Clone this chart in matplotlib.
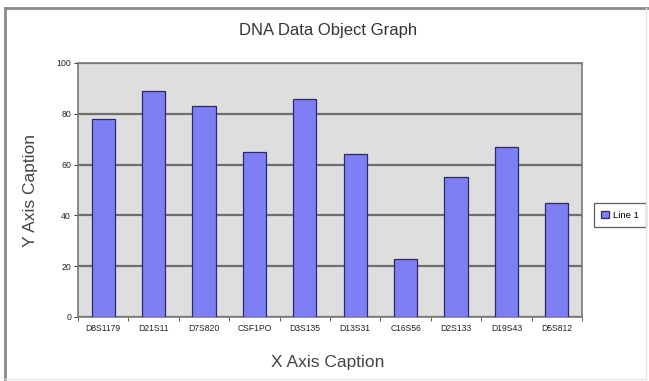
import matplotlib
matplotlib.use("Agg")
import matplotlib.pyplot as plt
from matplotlib.lines import Line2D
import numpy as np

plt.rcParams['font.family'] = ['Liberation Sans', 'DejaVu Sans']

loci = ["D8S1179", "D21S11", "D7S820", "CSF1PO", "D3S135",
        "D13S31", "C16S56", "D2S133", "D19S43", "D5S812"]
line1 = [78, 89, 83, 65, 86, 64, 23, 55, 67, 45]
y_ticks = [0, 20, 40, 60, 80, 100]

W, H = 649, 381
fig = plt.figure(figsize=(W / 100, H / 100), dpi=100)
fig.patch.set_facecolor("white")


def fx(px):
    return px / W


def fy(py):
    return 1 - py / H


# outer chart frame: darker top/left edges, pale right/bottom edges
fig.add_artist(Line2D([fx(5), fx(5)], [fy(8), fy(381)], color="#8a8a8a",
                      linewidth=2.0, transform=fig.transFigure))
fig.add_artist(Line2D([fx(5), fx(649)], [fy(8), fy(8)], color="#8a8a8a",
                      linewidth=2.0, transform=fig.transFigure))
fig.add_artist(Line2D([fx(646), fx(646)], [fy(8), fy(379)], color="#e4e4e4",
                      linewidth=1.0, transform=fig.transFigure))
fig.add_artist(Line2D([fx(5), fx(646)], [fy(379), fy(379)], color="#e4e4e4",
                      linewidth=1.0, transform=fig.transFigure))

ax = fig.add_axes([fx(78), fy(317), (582 - 78) / W, (317 - 63) / H])
ax.set_facecolor("#dedede")

x = np.arange(len(loci))
ax.bar(x, line1, width=0.46, color="#7f7ff5", edgecolor="#2a2a6a",
       linewidth=0.9, label="Line 1", zorder=3)

ax.set_xlim(-0.5, len(loci) - 0.5)
ax.set_ylim(0, 100)
ax.set_yticks(y_ticks)
ax.set_yticklabels([str(v) for v in y_ticks], fontsize=6.3, color="#222222")
ax.yaxis.grid(True, color="#6e6e6e", linewidth=1.6, zorder=1)
ax.set_axisbelow(True)

ax.set_xticks(x)
ax.set_xticklabels(loci, fontsize=6.2, color="#222222")
ax.tick_params(axis="x", length=0, pad=5)
ax.set_xticks(np.arange(-0.5, len(loci), 1.0), minor=True)
ax.tick_params(axis="x", which="minor", length=3, direction="out", color="#444444")
ax.tick_params(axis="y", length=3, direction="out", color="#444444", pad=2)

for side in ["left", "bottom", "top", "right"]:
    ax.spines[side].set_color("#7a7a7a")
    ax.spines[side].set_linewidth(1.2)

fig.text(fx(328), fy(363), "X Axis Caption", ha="center", va="center",
         fontsize=12.5, color="#444444")
fig.text(fx(31), fy(190), "Y Axis Caption", ha="center", va="center",
         rotation=90, fontsize=12.5, color="#444444")
fig.text(fx(328), fy(30), "DNA Data Object Graph", ha="center",
         va="center", fontsize=12, color="#333333")

leg = ax.legend(loc="center left", bbox_to_anchor=(1.014, 0.40),
                fontsize=6.8, frameon=True, fancybox=False,
                handlelength=0.8, handleheight=0.8, handletextpad=0.4,
                borderpad=0.8, edgecolor="#333333")
leg.get_frame().set_linewidth(0.9)

fig.savefig("out.png", dpi=100)
